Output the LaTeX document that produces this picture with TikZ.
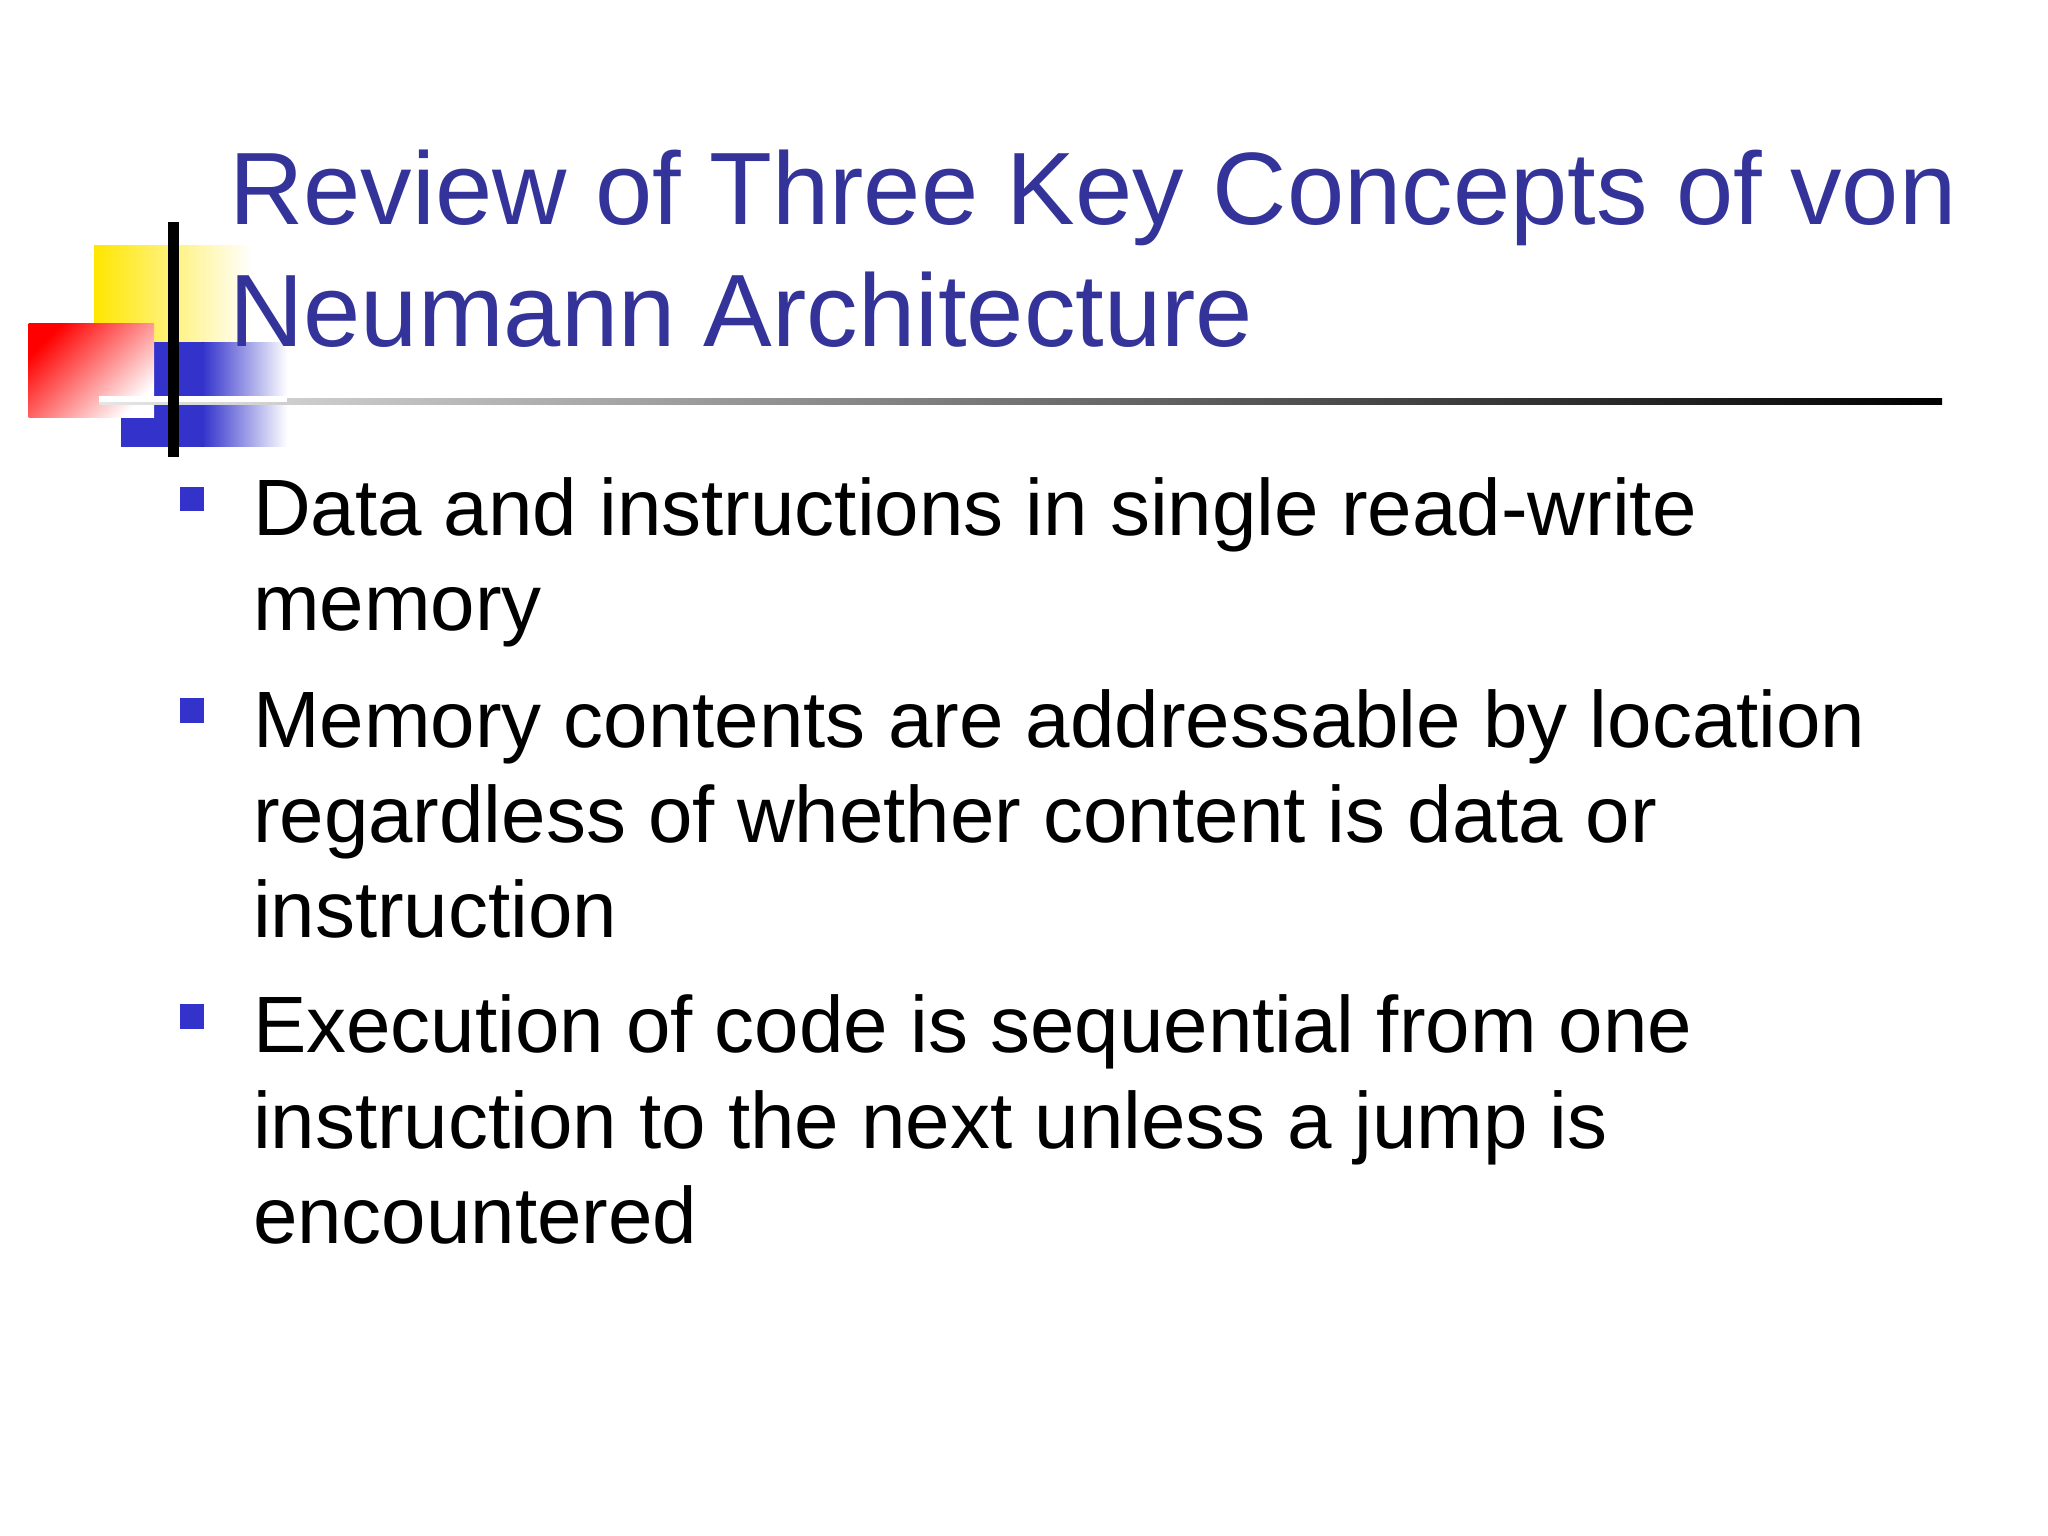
\documentclass[tikz,border=0pt]{standalone}
\usepackage{fontspec}
\setmainfont{Liberation Sans}
\definecolor{titleblue}{RGB}{51,51,153}
\definecolor{bulletblue}{RGB}{51,51,204}
\tikzset{
  title/.style={anchor=base west, inner sep=0pt, text=titleblue,
    font=\fontsize{22.4pt}{26pt}\selectfont},
  item/.style={anchor=base west, inner sep=0pt,
    font=\fontsize{17.4pt}{20.8pt}\selectfont},
  bullet/.style={fill=bulletblue, draw=none, inner sep=0pt, minimum size=0.19cm}
}
\begin{document}
\begin{tikzpicture}[x=0.01cm, y=-0.01cm]
  \useasboundingbox (0,0) rectangle (1568,1176);
  % decoration
  \fill[left color=yellow!80!orange, right color=white] (72,188) rectangle (193,262);
  \fill[bulletblue] (93,262) rectangle (155,342);
  \fill[left color=bulletblue, right color=white] (155,262) rectangle (220,342);
  \fill[bottom color=red, top color=white, shading angle=225] (22,248) rectangle (118,320);
  \shade[left color=gray!20, right color=black] (76,305) rectangle (1487,310);
  \fill[white] (76,303) rectangle (220,308);
  \draw[line width=2.5pt] (133,170) -- (133,350);
  % title
  \node[title] (t1) at (175,172) {Review of Three Key Concepts of von};
  \node[title] (t2) at (175,265) {Neumann Architecture};
  % bullets
  \node[bullet] (b1) at (147,382) {};
  \node[item] (i1a) at (193,410) {Data and instructions in single read-write};
  \node[item] (i1b) at (193,483) {memory};
  \node[bullet] (b2) at (147,544) {};
  \node[item] (i2a) at (193,572) {Memory contents are addressable by location};
  \node[item] (i2b) at (193,645) {regardless of whether content is data or};
  \node[item] (i2c) at (193,718) {instruction};
  \node[bullet] (b3) at (147,778) {};
  \node[item] (i3a) at (193,806) {Execution of code is sequential from one};
  \node[item] (i3b) at (193,879) {instruction to the next unless a jump is};
  \node[item] (i3c) at (193,952) {encountered};
\end{tikzpicture}
\end{document}
